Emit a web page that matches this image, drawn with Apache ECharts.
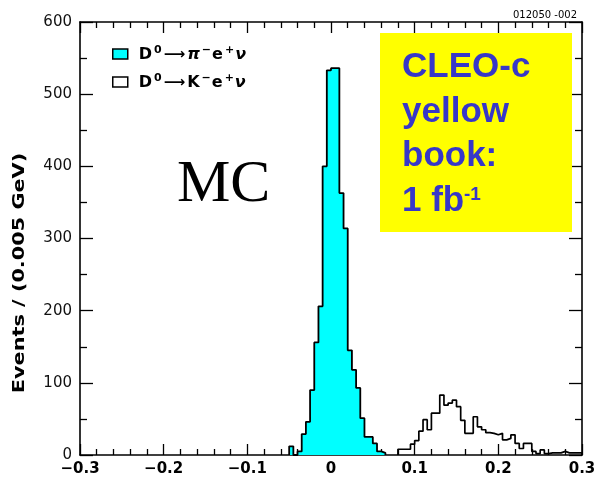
<!DOCTYPE html>
<html><head><meta charset="utf-8">
<script src="https://cdn.jsdelivr.net/npm/echarts@6/dist/echarts.min.js"></script>
<style>html,body{margin:0;padding:0;background:#fff}#c{width:599px;height:477px}</style>
</head><body><div id="c"></div>
<script>
// Histogram bin width (GeV)
const binWidth = 0.005;
// D0 -> pi- e+ nu (filled, cyan): first bin lower edge and counts per bin
const piStart = -0.050;
const piCounts = [12,0,5,29,46,90,156,206,400,533,536,536,363,314,145,118,93,51,25,25,16,5,3];
// D0 -> K- e+ nu (open): first bin lower edge and counts per bin
const kStart = 0.080;
const kCounts = [8,8,8,15,20,33,49,35,58,58,83,69,72,76,67,48,30,30,53,39,35,31,30,28,30,21,23,28,16,9,16,16,5,2,7,2,3,3,3,5,3,3,3,3];
// Axes
const xMin = -0.3, xMax = 0.3, xStep = 0.1;
const yMin = 0, yMax = 600, yStep = 100;
const piName = 'D0 -> pi- e+ nu';
const kName = 'D0 -> K- e+ nu';
const piLabel = '{n|D}{s|0}{a|\u27F6}{p|\u03C0}{s|\u2212}{n|e}{s|+}{p|\u03BD}';
const kLabel = '{n|D}{s|0}{a|\u27F6}{n|K}{s|\u2212}{n|e}{s|+}{p|\u03BD}';
const yTitle = 'Events / (0.005 GeV)';
const boxLines = ['CLEO-c', 'yellow', 'book:', '1 fb'];
const boxSup = '-1';
const mcLabel = 'MC';
const figId = '012050 -002';

function stepPoints(start, counts) {
  const pts = [[start, 0]];
  counts.forEach((c, i) => pts.push([+(start + i * binWidth).toFixed(4), c]));
  pts.push([+(start + counts.length * binWidth).toFixed(4), 0]);
  return pts;
}

const chart = echarts.init(document.getElementById('c'), null, {renderer: 'canvas'});
const axisFont = '"DejaVu Sans", sans-serif';
const lineBlack = {color: '#000', width: 1.6};
function xAx(pos, show) {
  return {
    type: 'value', position: pos, min: xMin, max: xMax, interval: xStep,
    axisLine: {show: true, onZero: false, lineStyle: lineBlack},
    axisTick: {show: true, inside: true, length: 11, lineStyle: {color: '#000', width: 1.3}},
    minorTick: {show: true, splitNumber: 5, length: 6, lineStyle: {color: '#000', width: 1.3}},
    splitLine: {show: false}, minorSplitLine: {show: false},
    axisLabel: {show: show, margin: 7, color: '#000', fontFamily: axisFont, fontWeight: 'bold', fontSize: 15,
      formatter: v => Math.abs(v) < 1e-9 ? '0' : (v < 0 ? '\u2212' : '') + Math.abs(v).toFixed(1)}
  };
}
function yAx(pos, show) {
  return {
    type: 'value', position: pos, min: yMin, max: yMax, interval: yStep,
    axisLine: {show: true, onZero: false, lineStyle: lineBlack},
    axisTick: {show: true, inside: true, length: 13, lineStyle: {color: '#000', width: 1.3}},
    minorTick: {show: true, splitNumber: 2, length: 7, lineStyle: {color: '#000', width: 1.3}},
    splitLine: {show: false}, minorSplitLine: {show: false},
    axisLabel: {show: show, margin: 8, color: '#111', fontFamily: axisFont, fontSize: 15}
  };
}
const legFont = {fontFamily: axisFont, fontWeight: 'bold', color: '#000'};

chart.setOption({
  animation: false,
  backgroundColor: '#fff',
  grid: {left: 80, right: 17, top: 22, bottom: 22, containLabel: false},
  xAxis: [xAx('bottom', true), xAx('top', false)],
  yAxis: [yAx('left', true), yAx('right', false)],
  legend: {
    left: 112, top: 45, orient: 'vertical', padding: 0, itemWidth: 15, itemHeight: 10, itemGap: 10,
    icon: 'rect', selectedMode: false,
    formatter: name => name === piName ? piLabel : kLabel,
    textStyle: {
      padding: [0, 0, 0, 6],
      rich: {
        n: Object.assign({fontSize: 16, lineHeight: 18, verticalAlign: 'bottom', padding: [0, 1, 0, 0]}, legFont),
        p: Object.assign({fontSize: 16, lineHeight: 18, verticalAlign: 'bottom', fontStyle: 'italic', padding: [0, 1, 0, 0]}, legFont),
        a: Object.assign({fontSize: 15, lineHeight: 18, verticalAlign: 'bottom', padding: [0, 2, 0, 1]}, legFont),
        s: Object.assign({fontSize: 11, lineHeight: 10, verticalAlign: 'top', padding: [0, 1, 0, 1]}, legFont)
      }
    },
    data: [
      {name: piName, itemStyle: {color: '#00ffff', borderColor: '#000', borderWidth: 1.5}},
      {name: kName, itemStyle: {color: '#fff', borderColor: '#000', borderWidth: 1.5}}
    ]
  },
  series: [
    {name: kName, type: 'line', step: 'end', xAxisIndex: 0, yAxisIndex: 0, symbol: 'none',
     itemStyle: {color: '#fff'}, lineStyle: {color: '#000', width: 1.7}, data: stepPoints(kStart, kCounts), z: 2},
    {name: piName, type: 'line', step: 'end', xAxisIndex: 0, yAxisIndex: 0, symbol: 'none',
     itemStyle: {color: '#00ffff'}, lineStyle: {color: '#000', width: 1.8},
     areaStyle: {color: '#00ffff', opacity: 1}, data: stepPoints(piStart, piCounts), z: 3}
  ],
  graphic: [
    {type: 'rect', shape: {x: 380, y: 33, width: 192, height: 199}, style: {fill: '#ffff00'}, z: 10},
    {type: 'text', x: 402, y: 67, z: 11, style: {text: boxLines[0], font: 'bold 35px "Liberation Sans", Arial', fill: '#3737c8', verticalAlign: 'middle'}},
    {type: 'text', x: 402, y: 112, z: 11, style: {text: boxLines[1], font: 'bold 35px "Liberation Sans", Arial', fill: '#3737c8', verticalAlign: 'middle'}},
    {type: 'text', x: 402, y: 156, z: 11, style: {text: boxLines[2], font: 'bold 35px "Liberation Sans", Arial', fill: '#3737c8', verticalAlign: 'middle'}},
    {type: 'text', x: 402, y: 201, z: 11, style: {text: boxLines[3], font: 'bold 35px "Liberation Sans", Arial', fill: '#3737c8', verticalAlign: 'middle'}},
    {type: 'text', x: 464, y: 195, z: 11, style: {text: boxSup, font: 'bold 19px "Liberation Sans", Arial', fill: '#3737c8', verticalAlign: 'middle'}},
    {type: 'text', x: 177, y: 185, z: 11, style: {text: mcLabel, font: '60px "Liberation Serif", serif', fill: '#000', verticalAlign: 'middle'}},
    {type: 'text', x: 577, y: 15, z: 11, style: {text: figId, font: '10px "DejaVu Sans", sans-serif', fill: '#000', align: 'right', verticalAlign: 'middle'}},
    {type: 'text', x: 20, y: 273, rotation: Math.PI / 2, scaleX: 1.3, z: 11,
     style: {text: yTitle, font: 'bold 16px "DejaVu Sans", sans-serif', fill: '#000', align: 'center', verticalAlign: 'middle'}}
  ]
});
</script></body></html>
